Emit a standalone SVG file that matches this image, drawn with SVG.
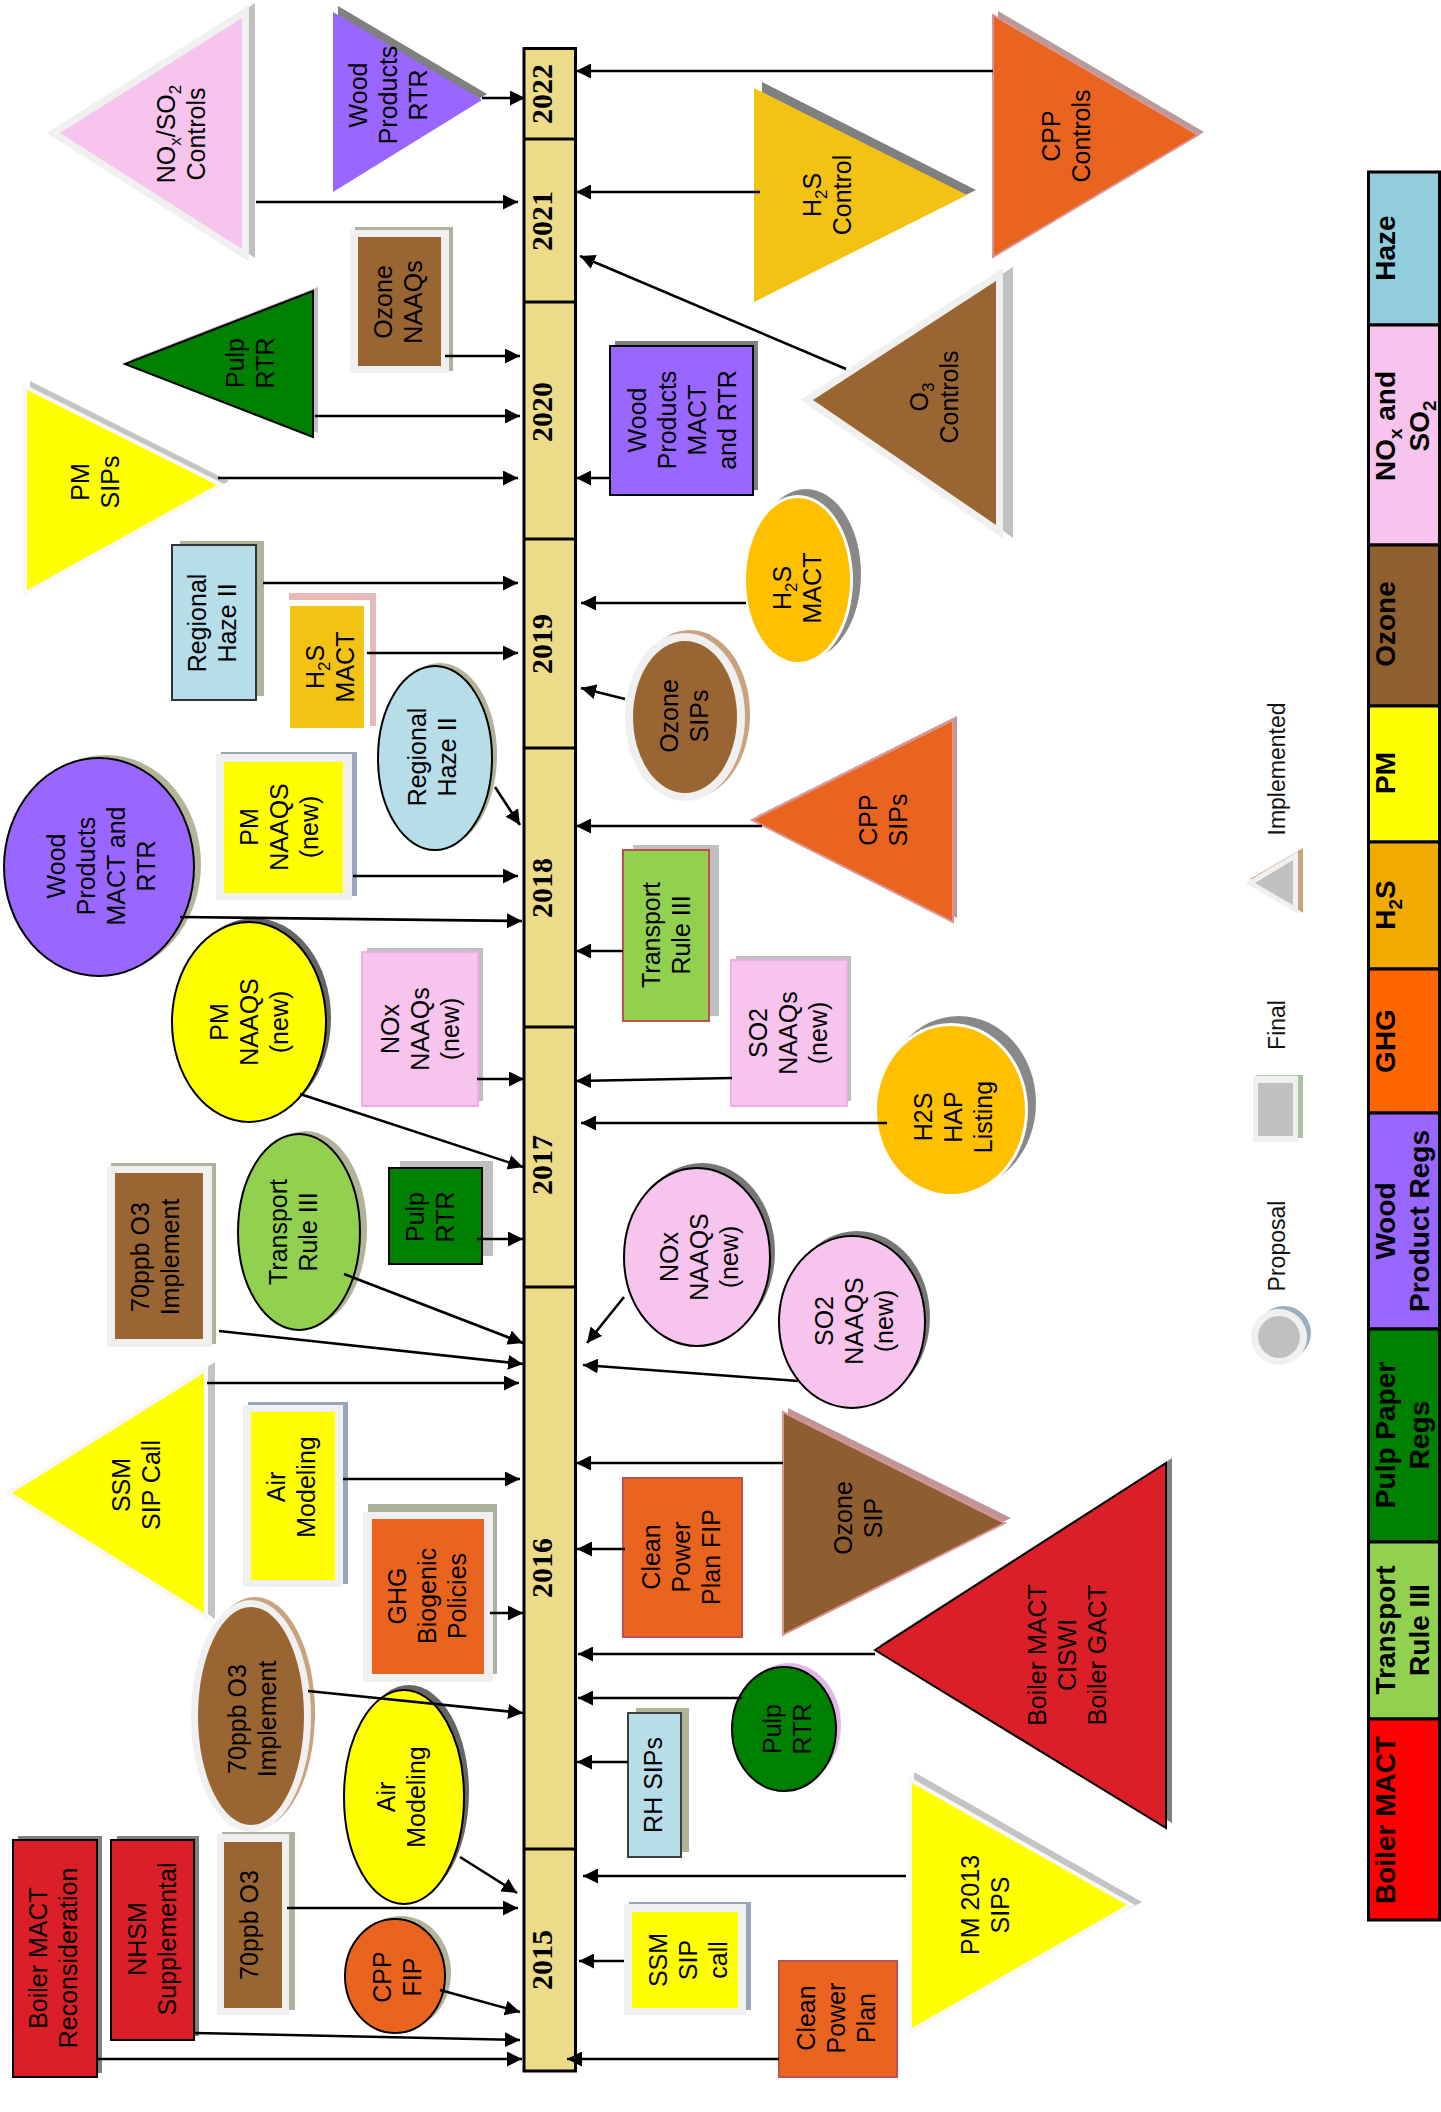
<svg xmlns="http://www.w3.org/2000/svg" width="1441" height="2112" viewBox="0 0 1441 2112">
<defs>
<marker id="ah" markerUnits="userSpaceOnUse" markerWidth="15" markerHeight="15" refX="15" refY="7.5" orient="auto"><path d="M0,0 L15,7.5 L0,15 z" fill="#000"/></marker>
<style>
.t{font-family:"Liberation Sans",Arial,sans-serif;font-size:25px;fill:#000;text-anchor:middle}
.yr{font-family:"Liberation Serif","Times New Roman",serif;font-size:30px;font-weight:bold;text-anchor:middle;fill:#000}
.lg{font-family:"Liberation Sans",Arial,sans-serif;font-size:28px;font-weight:bold;text-anchor:middle;fill:#000}
.lw{font-family:"Liberation Sans",Arial,sans-serif;font-size:23px;text-anchor:middle;fill:#111}
.sub{font-size:17px}
.lsub{font-size:19px}
.c{stroke:#000;stroke-width:2.6;fill:none;marker-end:url(#ah)}
.k{stroke:#000;stroke-width:2}
.impl{stroke:#f0f0f0;stroke-width:14;paint-order:stroke;stroke-linejoin:miter}
.implw{stroke:#f8f8f8;stroke-width:8;paint-order:stroke;stroke-linejoin:miter}
.seg{stroke:#000;stroke-width:3}
</style>
</defs>
<rect width="1441" height="2112" fill="#fff"/>

<g id="timeline">
<rect x="524" y="48.5" width="51.5" height="2022.5" fill="#ecdc8a" stroke="#000" stroke-width="3"/>
<g stroke="#000" stroke-width="3">
<line x1="524" y1="139" x2="575.5" y2="139"/>
<line x1="524" y1="302" x2="575.5" y2="302"/>
<line x1="524" y1="539" x2="575.5" y2="539"/>
<line x1="524" y1="748" x2="575.5" y2="748"/>
<line x1="524" y1="1027" x2="575.5" y2="1027"/>
<line x1="524" y1="1287" x2="575.5" y2="1287"/>
<line x1="524" y1="1849" x2="575.5" y2="1849"/>
</g>
<text class="yr" transform="translate(542 94) rotate(-90)" y="10">2022</text>
<text class="yr" transform="translate(542 221) rotate(-90)" y="10">2021</text>
<text class="yr" transform="translate(542 412) rotate(-90)" y="10">2020</text>
<text class="yr" transform="translate(542 644) rotate(-90)" y="10">2019</text>
<text class="yr" transform="translate(542 888) rotate(-90)" y="10">2018</text>
<text class="yr" transform="translate(542 1165) rotate(-90)" y="10">2017</text>
<text class="yr" transform="translate(542 1568) rotate(-90)" y="10">2016</text>
<text class="yr" transform="translate(542 1960) rotate(-90)" y="10">2015</text>
</g>

<g id="legend-bar">
<rect class="seg" x="1368.5" y="172" width="71" height="153" fill="#92cddc"/>
<rect class="seg" x="1368.5" y="325" width="71" height="220" fill="#f6c4ec"/>
<rect class="seg" x="1368.5" y="545" width="71" height="161" fill="#8f5f2f"/>
<rect class="seg" x="1368.5" y="706" width="71" height="136" fill="#ffff00"/>
<rect class="seg" x="1368.5" y="842" width="71" height="127" fill="#f0aa00"/>
<rect class="seg" x="1368.5" y="969" width="71" height="144" fill="#ff6600"/>
<rect class="seg" x="1368.5" y="1113" width="71" height="216" fill="#9966ff"/>
<rect class="seg" x="1368.5" y="1329" width="71" height="213" fill="#008000"/>
<rect class="seg" x="1368.5" y="1542" width="71" height="177" fill="#92d050"/>
<rect class="seg" x="1368.5" y="1719" width="71" height="201" fill="#ff0000"/>
<text class="lg" transform="translate(1385 248) rotate(-90)" y="10">Haze</text>
<text class="lg" transform="translate(1385 426) rotate(-90)"><tspan x="0" y="10">NO<tspan class="lsub" dy="7">x</tspan><tspan dy="-7"> and</tspan></tspan><tspan x="0" y="44">SO<tspan class="lsub" dy="7">2</tspan></tspan></text>
<text class="lg" transform="translate(1385 624) rotate(-90)" y="10">Ozone</text>
<text class="lg" transform="translate(1385 773) rotate(-90)" y="10">PM</text>
<text class="lg" transform="translate(1385 905) rotate(-90)" y="10">H<tspan class="lsub" dy="7">2</tspan><tspan dy="-7">S</tspan></text>
<text class="lg" transform="translate(1385 1041) rotate(-90)" y="10">GHG</text>
<text class="lg" transform="translate(1385 1221) rotate(-90)"><tspan x="0" y="10">Wood</tspan><tspan x="0" y="44">Product Regs</tspan></text>
<text class="lg" transform="translate(1385 1435) rotate(-90)"><tspan x="0" y="10">Pulp Paper</tspan><tspan x="0" y="44">Regs</tspan></text>
<text class="lg" transform="translate(1385 1630) rotate(-90)"><tspan x="0" y="10">Transport</tspan><tspan x="0" y="44">Rule III</tspan></text>
<text class="lg" transform="translate(1385 1820) rotate(-90)" y="10">Boiler MACT</text>
</g>

<g id="legend-implemented">
<polygon points="1250,879 1303,848 1303,913" fill="#c9a27e"/>
<polygon points="1255,883 1293,860 1293,905" fill="#c0c0c0" stroke="#f0f0f0" stroke-width="10" paint-order="stroke"/>
<text class="lw" transform="translate(1276 769) rotate(-90)" y="8.5">Implemented</text>
</g>
<g id="legend-final">
<rect x="1256" y="1075" width="47" height="63" fill="#a9c4a0"/>
<rect x="1253" y="1076" width="45" height="66" fill="#f0f0f0"/>
<rect x="1258" y="1083" width="35" height="53" fill="#c0c0c0"/>
<text class="lw" transform="translate(1276 1025) rotate(-90)" y="8.5">Final</text>
</g>
<g id="legend-proposal">
<circle cx="1284" cy="1333" r="27" fill="#9ab0c0"/>
<circle cx="1279" cy="1337" r="28" fill="#f0f0f0"/>
<circle cx="1279" cy="1337" r="21" fill="#c0c0c0"/>
<text class="lw" transform="translate(1276 1246) rotate(-90)" y="8.5">Proposal</text>
</g>

<!-- left side nodes -->
<g id="nox-so2-controls">
<polygon points="65,129 255,3 255,258" fill="#c0c0c0"/>
<polygon class="impl" points="60,133 242,18 242,249" fill="#f6c4ec"/>
<text class="t" transform="translate(181 134) rotate(-90)"><tspan x="0" y="-6">NO<tspan class="sub" dy="6">x</tspan><tspan dy="-6">/SO</tspan><tspan class="sub" dy="6">2</tspan></tspan><tspan x="0" y="24">Controls</tspan></text>
</g>
<g id="wood-products-rtr">
<polygon points="338,6 487,94 338,186" fill="#808080"/>
<polygon points="333,12 482,100 333,192" fill="#9966ff"/>
<text class="t" transform="translate(388 95) rotate(-90)"><tspan x="0" y="-21">Wood</tspan><tspan x="0" y="9">Products</tspan><tspan x="0" y="39">RTR</tspan></text>
</g>
<g id="ozone-naaqs-rect">
<rect x="355" y="227" width="98" height="144" fill="#aab39b"/>
<rect x="350" y="230" width="99" height="143" fill="#f0f0f0"/>
<rect x="358" y="237" width="83" height="129" fill="#996633"/>
<text class="t" transform="translate(398 302) rotate(-90)"><tspan x="0" y="-6">Ozone</tspan><tspan x="0" y="24">NAAQs</tspan></text>
</g>
<g id="pulp-rtr-tri">
<polygon points="130,360 318,287 318,433" fill="#c0c0c0"/>
<polygon class="k" points="125,364 313,291 313,437" fill="#008000"/>
<text class="t" transform="translate(250 363) rotate(-90)"><tspan x="0" y="-6">Pulp</tspan><tspan x="0" y="24">RTR</tspan></text>
</g>
<g id="pm-sips">
<polygon points="30,381 229,481 30,583" fill="#c4c4c4"/>
<polygon class="implw" points="27,390 217,485 27,590" fill="#ffff00"/>
<text class="t" transform="translate(95 482) rotate(-90)"><tspan x="0" y="-6">PM</tspan><tspan x="0" y="24">SIPs</tspan></text>
</g>
<g id="regional-haze-rect">
<rect x="180" y="541" width="84" height="155" fill="#b3b39a"/>
<rect x="172" y="545" width="84" height="155" fill="#b7dde8" stroke="#333" stroke-width="2"/>
<text class="t" transform="translate(212 623) rotate(-90)"><tspan x="0" y="-6">Regional</tspan><tspan x="0" y="24">Haze II</tspan></text>
</g>
<g id="h2s-mact-rect">
<rect x="289" y="593" width="87" height="133" fill="#e6b9b8"/>
<rect x="289" y="600" width="81" height="133" fill="#fff"/>
<rect x="290" y="606" width="74" height="122" fill="#f2c314"/>
<text class="t" transform="translate(330 667) rotate(-90)"><tspan x="0" y="-6">H<tspan class="sub" dy="6">2</tspan><tspan dy="-6">S</tspan></tspan><tspan x="0" y="24">MACT</tspan></text>
</g>
<g id="regional-haze-ellipse">
<ellipse cx="440" cy="755" rx="57" ry="92" fill="#b3b39a"/>
<ellipse class="k" cx="435" cy="758" rx="57" ry="92" fill="#b7dde8"/>
<text class="t" transform="translate(432 757) rotate(-90)"><tspan x="0" y="-6">Regional</tspan><tspan x="0" y="24">Haze II</tspan></text>
</g>
<g id="pm-naaqs-rect">
<rect x="221" y="752" width="136" height="144" fill="#97a6b8"/>
<rect x="216" y="754" width="136" height="146" fill="#f0f0f0"/>
<rect x="224" y="762" width="119" height="131" fill="#ffff00"/>
<text class="t" transform="translate(279 827) rotate(-90)"><tspan x="0" y="-21">PM</tspan><tspan x="0" y="9">NAAQS</tspan><tspan x="0" y="39">(new)</tspan></text>
</g>
<g id="wood-products-ellipse">
<ellipse cx="106" cy="864" rx="95" ry="109" fill="#b3b39a"/>
<ellipse class="k" cx="99" cy="867" rx="95" ry="109" fill="#9966ff"/>
<text class="t" transform="translate(101 866) rotate(-90)"><tspan x="0" y="-36">Wood</tspan><tspan x="0" y="-6">Products</tspan><tspan x="0" y="24">MACT and</tspan><tspan x="0" y="54">RTR</tspan></text>
</g>
<g id="pm-naaqs-ellipse">
<ellipse cx="254" cy="1018" rx="77" ry="100" fill="#666"/>
<ellipse class="k" cx="249" cy="1022" rx="77" ry="100" fill="#ffff00"/>
<text class="t" transform="translate(249 1022) rotate(-90)"><tspan x="0" y="-21">PM</tspan><tspan x="0" y="9">NAAQS</tspan><tspan x="0" y="39">(new)</tspan></text>
</g>
<g id="nox-naaqs-rect">
<rect x="367" y="948" width="116" height="153" fill="#bfbfbf"/>
<rect x="362" y="952" width="116" height="154" fill="#f6c4ec" stroke="#eeb0e2" stroke-width="2"/>
<text class="t" transform="translate(420 1029) rotate(-90)"><tspan x="0" y="-21">NOx</tspan><tspan x="0" y="9">NAAQs</tspan><tspan x="0" y="39">(new)</tspan></text>
</g>
<g id="o3-implement-rect">
<rect x="111" y="1163" width="105" height="181" fill="#aab39b"/>
<rect x="107" y="1166" width="105" height="181" fill="#f0f0f0"/>
<rect x="115" y="1173" width="88" height="166" fill="#996633"/>
<text class="t" transform="translate(155 1257) rotate(-90)"><tspan x="0" y="-6">70ppb O3</tspan><tspan x="0" y="24">Implement</tspan></text>
</g>
<g id="transport-ellipse">
<ellipse cx="306" cy="1229" rx="61" ry="98" fill="#b3b39a"/>
<ellipse class="k" cx="299" cy="1232" rx="61" ry="98" fill="#92d050"/>
<text class="t" transform="translate(293 1232) rotate(-90)"><tspan x="0" y="-6">Transport</tspan><tspan x="0" y="24">Rule III</tspan></text>
</g>
<g id="pulp-rtr-rect">
<rect x="400" y="1161" width="93" height="95" fill="#bfbfbf"/>
<rect class="k" x="389" y="1168" width="93" height="96" fill="#008000"/>
<text class="t" transform="translate(430 1217) rotate(-90)"><tspan x="0" y="-6">Pulp</tspan><tspan x="0" y="24">RTR</tspan></text>
</g>
<g id="ssm-sip-call-tri">
<polygon points="20,1486 215,1362 215,1619" fill="#c4c4c4"/>
<polygon class="implw" points="12,1493 204,1373 204,1613" fill="#ffff00"/>
<text class="t" transform="translate(136 1485) rotate(-90)"><tspan x="0" y="-6">SSM</tspan><tspan x="0" y="24">SIP Call</tspan></text>
</g>
<g id="air-modeling-rect">
<rect x="248" y="1402" width="100" height="182" fill="#97a6b8"/>
<rect x="243" y="1405" width="100" height="182" fill="#f0f0f0"/>
<rect x="251" y="1412" width="84" height="168" fill="#ffff00"/>
<text class="t" transform="translate(291 1487) rotate(-90)"><tspan x="0" y="-6">Air</tspan><tspan x="0" y="24">Modeling</tspan></text>
</g>
<g id="ghg-biogenic">
<rect x="368" y="1504" width="129" height="170" fill="#aab39b"/>
<rect x="363" y="1512" width="130" height="170" fill="#f0f0f0"/>
<rect x="372" y="1519" width="112" height="155" fill="#e9641f"/>
<text class="t" transform="translate(427 1596) rotate(-90)"><tspan x="0" y="-21">GHG</tspan><tspan x="0" y="9">Biogenic</tspan><tspan x="0" y="39">Policies</tspan></text>
</g>
<g id="o3-implement-ellipse">
<ellipse cx="255" cy="1713" rx="60" ry="116" fill="#c9a27e"/>
<ellipse cx="251" cy="1716" rx="60" ry="116" fill="#f0f0f0"/>
<ellipse cx="251" cy="1716" rx="53" ry="109" fill="#996633"/>
<text class="t" transform="translate(252 1719) rotate(-90)"><tspan x="0" y="-6">70ppb O3</tspan><tspan x="0" y="24">Implement</tspan></text>
</g>
<g id="air-modeling-ellipse">
<ellipse cx="409" cy="1792" rx="60" ry="107" fill="#666"/>
<ellipse class="k" cx="404" cy="1797" rx="60" ry="107" fill="#ffff00"/>
<text class="t" transform="translate(401 1797) rotate(-90)"><tspan x="0" y="-6">Air</tspan><tspan x="0" y="24">Modeling</tspan></text>
</g>
<g id="o3-70ppb-rect">
<rect x="222" y="1832" width="73" height="178" fill="#aab39b"/>
<rect x="217" y="1834" width="72" height="181" fill="#f0f0f0"/>
<rect x="224" y="1842" width="58" height="166" fill="#996633"/>
<text class="t" transform="translate(249 1925) rotate(-90)" y="9">70ppb O3</text>
</g>
<g id="cpp-fip-ellipse">
<ellipse cx="401" cy="1973" rx="50" ry="57" fill="#b3b39a"/>
<ellipse class="k" cx="395" cy="1976" rx="50" ry="57" fill="#e9641f"/>
<text class="t" transform="translate(397 1977) rotate(-90)"><tspan x="0" y="-6">CPP</tspan><tspan x="0" y="24">FIP</tspan></text>
</g>
<g id="nhsm">
<rect x="117" y="1836" width="82" height="200" fill="#808080"/>
<rect class="k" x="111" y="1840" width="83" height="200" fill="#da1f28"/>
<text class="t" transform="translate(152 1939) rotate(-90)"><tspan x="0" y="-6">NHSM</tspan><tspan x="0" y="24">Supplemental</tspan></text>
</g>
<g id="boiler-recon">
<rect x="18" y="1836" width="84" height="237" fill="#808080"/>
<rect class="k" x="13" y="1840" width="84" height="237" fill="#da1f28"/>
<text class="t" transform="translate(53 1958) rotate(-90)"><tspan x="0" y="-6">Boiler MACT</tspan><tspan x="0" y="24">Reconsideration</tspan></text>
</g>

<!-- right side nodes -->
<g id="cpp-controls">
<polygon points="998,11 1204,132 998,252" fill="#b89a9a"/>
<polygon points="993,15 1198,135 993,257" fill="#e9641f" stroke="#d99694" stroke-width="2"/>
<text class="t" transform="translate(1066 136) rotate(-90)"><tspan x="0" y="-6">CPP</tspan><tspan x="0" y="24">Controls</tspan></text>
</g>
<g id="h2s-control">
<polygon points="762,82 976,190 762,296" fill="#808080"/>
<polygon points="754,88 967,195 754,302" fill="#f2c314"/>
<text class="t" transform="translate(827 195) rotate(-90)"><tspan x="0" y="-6">H<tspan class="sub" dy="6">2</tspan><tspan dy="-6">S</tspan></tspan><tspan x="0" y="24">Control</tspan></text>
</g>
<g id="o3-controls">
<polygon points="818,395 1013,267 1013,538" fill="#c0c0c0"/>
<polygon class="impl" points="813,400 996,281 996,525" fill="#996633"/>
<text class="t" transform="translate(934 397) rotate(-90)"><tspan x="0" y="-6">O<tspan class="sub" dy="6">3</tspan></tspan><tspan x="0" y="24">Controls</tspan></text>
</g>
<g id="wood-products-rect">
<rect x="615" y="341" width="143" height="149" fill="#808080"/>
<rect class="k" x="610" y="346" width="143" height="149" fill="#9966ff"/>
<text class="t" transform="translate(682 420) rotate(-90)"><tspan x="0" y="-36">Wood</tspan><tspan x="0" y="-6">Products</tspan><tspan x="0" y="24">MACT</tspan><tspan x="0" y="54">and RTR</tspan></text>
</g>
<g id="h2s-mact-ellipse">
<ellipse cx="806" cy="574" rx="55" ry="85" fill="#888"/>
<ellipse cx="798" cy="580" rx="55" ry="85" fill="#fff"/>
<ellipse cx="798" cy="580" rx="52" ry="82" fill="#ffc000"/>
<text class="t" transform="translate(797 588) rotate(-90)"><tspan x="0" y="-6">H<tspan class="sub" dy="6">2</tspan><tspan dy="-6">S</tspan></tspan><tspan x="0" y="24">MACT</tspan></text>
</g>
<g id="ozone-sips">
<ellipse cx="690" cy="714" rx="60" ry="84" fill="#c9a27e"/>
<ellipse cx="685" cy="717" rx="60" ry="84" fill="#f0f0f0"/>
<ellipse cx="685" cy="717" rx="52" ry="76" fill="#996633"/>
<text class="t" transform="translate(684 716) rotate(-90)"><tspan x="0" y="-6">Ozone</tspan><tspan x="0" y="24">SIPs</tspan></text>
</g>
<g id="cpp-sips">
<polygon points="757,816 957,716 957,918" fill="#c09595"/>
<polygon points="752,820 953,720 953,922" fill="#e9641f" stroke="#d99694" stroke-width="2"/>
<text class="t" transform="translate(883 820) rotate(-90)"><tspan x="0" y="-6">CPP</tspan><tspan x="0" y="24">SIPs</tspan></text>
</g>
<g id="transport-rect">
<rect x="633" y="845" width="86" height="171" fill="#bfbfbf"/>
<rect x="623" y="850" width="86" height="171" fill="#92d050" stroke="#c0504d" stroke-width="2"/>
<text class="t" transform="translate(666 935) rotate(-90)"><tspan x="0" y="-6">Transport</tspan><tspan x="0" y="24">Rule III</tspan></text>
</g>
<g id="so2-naaqs-rect">
<rect x="736" y="956" width="115" height="145" fill="#bfbfbf"/>
<rect x="731" y="960" width="116" height="146" fill="#f6c4ec" stroke="#eeb0e2" stroke-width="2"/>
<text class="t" transform="translate(788 1033) rotate(-90)"><tspan x="0" y="-21">SO2</tspan><tspan x="0" y="9">NAAQs</tspan><tspan x="0" y="39">(new)</tspan></text>
</g>
<g id="h2s-hap">
<ellipse cx="959" cy="1103" rx="77" ry="87" fill="#888"/>
<ellipse cx="951" cy="1110" rx="77" ry="87" fill="#fff"/>
<ellipse cx="951" cy="1110" rx="74" ry="84" fill="#ffc000"/>
<text class="t" transform="translate(953 1117) rotate(-90)"><tspan x="0" y="-21">H2S</tspan><tspan x="0" y="9">HAP</tspan><tspan x="0" y="39">Listing</tspan></text>
</g>
<g id="nox-naaqs-ellipse">
<ellipse cx="702" cy="1252" rx="73" ry="89" fill="#777"/>
<ellipse class="k" cx="697" cy="1257" rx="73" ry="89" fill="#f6c4ec"/>
<text class="t" transform="translate(699 1257) rotate(-90)"><tspan x="0" y="-21">NOx</tspan><tspan x="0" y="9">NAAQS</tspan><tspan x="0" y="39">(new)</tspan></text>
</g>
<g id="so2-naaqs-ellipse">
<ellipse cx="857" cy="1317" rx="73" ry="86" fill="#777"/>
<ellipse class="k" cx="852" cy="1322" rx="73" ry="86" fill="#f6c4ec"/>
<text class="t" transform="translate(854 1321) rotate(-90)"><tspan x="0" y="-21">SO2</tspan><tspan x="0" y="9">NAAQS</tspan><tspan x="0" y="39">(new)</tspan></text>
</g>
<g id="ozone-sip">
<polygon points="788,1408 1011,1518 788,1631" fill="#c09595"/>
<polygon points="783,1412 1005,1523 783,1635" fill="#8f5e30" stroke="#d99694" stroke-width="2"/>
<text class="t" transform="translate(858 1518) rotate(-90)"><tspan x="0" y="-6">Ozone</tspan><tspan x="0" y="24">SIP</tspan></text>
</g>
<g id="cpp-fip-rect">
<rect x="623" y="1478" width="119" height="159" fill="#e9641f" stroke="#c0504d" stroke-width="2"/>
<text class="t" transform="translate(681 1557) rotate(-90)"><tspan x="0" y="-21">Clean</tspan><tspan x="0" y="9">Power</tspan><tspan x="0" y="39">Plan FIP</tspan></text>
</g>
<g id="boiler-mact-tri">
<polygon points="880,1645 1172,1458 1172,1823" fill="#808080"/>
<polygon class="k" points="875,1650 1166,1463 1166,1828" fill="#da1f28"/>
<text class="t" transform="translate(1067 1655) rotate(-90)"><tspan x="0" y="-21">Boiler MACT</tspan><tspan x="0" y="9">CISWI</tspan><tspan x="0" y="39">Boiler GACT</tspan></text>
</g>
<g id="pulp-rtr-ellipse">
<ellipse cx="789" cy="1725" rx="52" ry="62" fill="#e0b8e8"/>
<ellipse class="k" cx="784" cy="1729" rx="52" ry="62" fill="#008000"/>
<text class="t" transform="translate(787 1729) rotate(-90)"><tspan x="0" y="-6">Pulp</tspan><tspan x="0" y="24">RTR</tspan></text>
</g>
<g id="rh-sips">
<rect x="636" y="1708" width="53" height="144" fill="#b3b39a"/>
<rect x="628" y="1713" width="53" height="144" fill="#b7dde8" stroke="#404040" stroke-width="2"/>
<text class="t" transform="translate(653 1785) rotate(-90)" y="9">RH SIPs</text>
</g>
<g id="pm-2013-sips">
<polygon points="914,1772 1142,1902 914,2020" fill="#c4c4c4"/>
<polygon class="implw" points="912,1783 1127,1905 912,2028" fill="#ffff00"/>
<text class="t" transform="translate(985 1905) rotate(-90)"><tspan x="0" y="-6">PM 2013</tspan><tspan x="0" y="24">SIPS</tspan></text>
</g>
<g id="ssm-sip-call-rect">
<rect x="629" y="1902" width="122" height="108" fill="#97a6b8"/>
<rect x="624" y="1904" width="122" height="111" fill="#f0f0f0"/>
<rect x="632" y="1912" width="106" height="96" fill="#ffff00"/>
<text class="t" transform="translate(688 1960) rotate(-90)"><tspan x="0" y="-21">SSM</tspan><tspan x="0" y="9">SIP</tspan><tspan x="0" y="39">call</tspan></text>
</g>
<g id="clean-power-plan">
<rect x="779" y="1961" width="118" height="116" fill="#e9641f" stroke="#c0504d" stroke-width="2"/>
<text class="t" transform="translate(836 2018) rotate(-90)"><tspan x="0" y="-21">Clean</tspan><tspan x="0" y="9">Power</tspan><tspan x="0" y="39">Plan</tspan></text>
</g>

<g id="connectors">
<line class="c" x1="482" y1="98" x2="525" y2="98"/>
<line class="c" x1="256" y1="202" x2="518" y2="202"/>
<line class="c" x1="445" y1="356" x2="520" y2="356"/>
<line class="c" x1="315" y1="416" x2="520" y2="416"/>
<line class="c" x1="218" y1="478" x2="518" y2="478"/>
<line class="c" x1="263" y1="583" x2="518" y2="583"/>
<line class="c" x1="367" y1="653" x2="518" y2="653"/>
<line class="c" x1="495" y1="787" x2="520" y2="825"/>
<line class="c" x1="353" y1="876" x2="518" y2="876"/>
<line class="c" x1="180" y1="917" x2="522" y2="921"/>
<line class="c" x1="477" y1="1079" x2="524" y2="1079"/>
<line class="c" x1="300" y1="1094" x2="523" y2="1167"/>
<line class="c" x1="477" y1="1239" x2="523" y2="1239"/>
<line class="c" x1="344" y1="1274" x2="523" y2="1343"/>
<line class="c" x1="219" y1="1331" x2="523" y2="1364"/>
<line class="c" x1="207" y1="1383" x2="519" y2="1383"/>
<line class="c" x1="343" y1="1479" x2="520" y2="1479"/>
<line class="c" x1="490" y1="1613" x2="523" y2="1613"/>
<line class="c" x1="308" y1="1691" x2="523" y2="1713"/>
<line class="c" x1="460" y1="1857" x2="517" y2="1893"/>
<line class="c" x1="287" y1="1908" x2="518" y2="1908"/>
<line class="c" x1="440" y1="1990" x2="520" y2="2012"/>
<line class="c" x1="195" y1="2033" x2="520" y2="2040"/>
<line class="c" x1="97" y1="2059" x2="522" y2="2059"/>

<line class="c" x1="993" y1="71" x2="576" y2="71"/>
<line class="c" x1="760" y1="192" x2="576" y2="192"/>
<line class="c" x1="846" y1="369" x2="580" y2="256"/>
<line class="c" x1="610" y1="478" x2="576" y2="478"/>
<line class="c" x1="746" y1="603" x2="581" y2="603"/>
<line class="c" x1="625" y1="699" x2="581" y2="688"/>
<line class="c" x1="762" y1="826" x2="576" y2="826"/>
<line class="c" x1="623" y1="951" x2="576" y2="951"/>
<line class="c" x1="732" y1="1078" x2="576" y2="1081"/>
<line class="c" x1="887" y1="1123" x2="581" y2="1123"/>
<line class="c" x1="783" y1="1463" x2="576" y2="1463"/>
<line class="c" x1="624" y1="1297" x2="587" y2="1343"/>
<line class="c" x1="798" y1="1381" x2="583" y2="1365"/>
<line class="c" x1="625" y1="1549" x2="577" y2="1549"/>
<line class="c" x1="875" y1="1654" x2="578" y2="1654"/>
<line class="c" x1="742" y1="1698" x2="578" y2="1698"/>
<line class="c" x1="628" y1="1762" x2="577" y2="1762"/>
<line class="c" x1="906" y1="1876" x2="583" y2="1876"/>
<line class="c" x1="624" y1="1961" x2="579" y2="1961"/>
<line class="c" x1="779" y1="2059" x2="567" y2="2059"/>
</g>
</svg>
